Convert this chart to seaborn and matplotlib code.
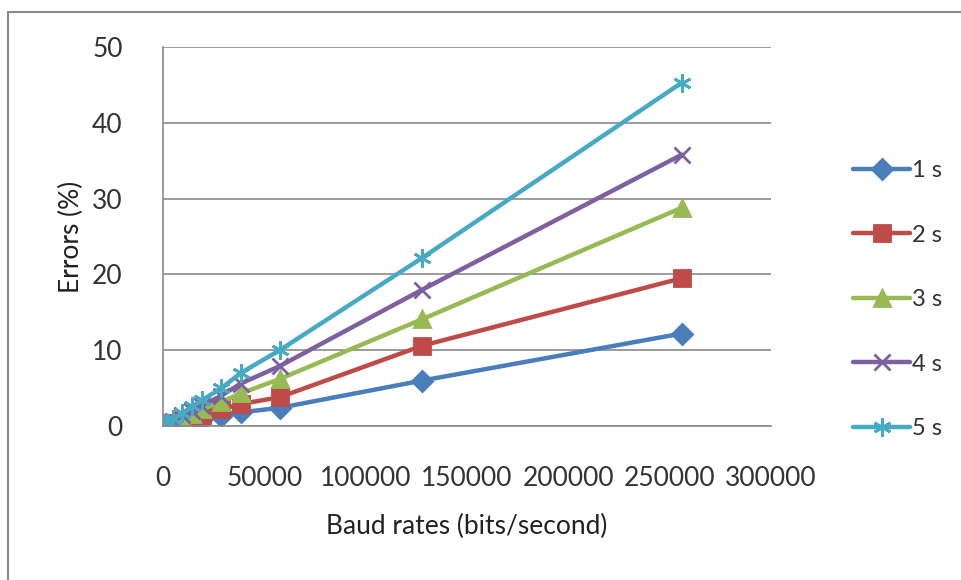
import numpy as np
import pandas as pd
import seaborn as sns
from matplotlib import pyplot as plt
from matplotlib.patches import Rectangle

# baud rates (bits/second)
baud = [1200, 2400, 4800, 9600, 14400, 19200, 28800, 38400, 57600, 128000, 256000]

err_1s = [0.1, 0.1, 0.2, 0.5, 0.7, 0.9, 1.3, 1.8, 2.4, 6.0, 12.2]
err_2s = [0.1, 0.2, 0.4, 0.8, 1.1, 1.5, 2.2, 2.9, 3.8, 10.6, 19.5]
err_3s = [0.1, 0.3, 0.5, 1.1, 1.6, 2.2, 3.2, 4.3, 6.2, 14.1, 28.8]
err_4s = [0.2, 0.3, 0.7, 1.4, 2.0, 2.7, 4.0, 5.6, 7.9, 18.0, 35.8]
err_5s = [0.2, 0.4, 0.9, 1.7, 2.6, 3.4, 5.0, 7.0, 10.0, 22.2, 45.3]

labels = ["1 s", "2 s", "3 s", "4 s", "5 s"]
colors = ["#4A7EBB", "#BE4B48", "#98B954", "#7D60A0", "#46AAC5"]
markers = ["D", "s", "^", "x", (6, 2, 0)]
msizes = [10, 12, 11, 11, 13]

df = pd.DataFrame({"baud": baud, "1 s": err_1s, "2 s": err_2s, "3 s": err_3s,
                   "4 s": err_4s, "5 s": err_5s})
df = df.melt(id_vars="baud", var_name="series", value_name="errors")

sns.set_style("white")
plt.rcParams['font.family'] = ['Lato', 'DejaVu Sans']

fig = plt.figure(figsize=(9.61, 5.80), dpi=100)
ax = fig.add_axes([163/961, 1 - 426/580, 608/961, 379/580])

for lab, c, m, ms in zip(labels, colors, markers, msizes):
    sub = df[df.series == lab]
    sns.lineplot(data=sub, x="baud", y="errors", ax=ax, color=c, marker=m,
                 markersize=ms, markeredgecolor=c, markeredgewidth=2,
                 linewidth=3.2, label=lab, legend=False)

ax.set_xlim(0, 300000)
ax.set_ylim(0, 50)
ax.set_xticks(range(0, 300001, 50000))
ax.set_yticks(range(0, 51, 10))
ax.grid(axis='y', color='#8a8a8a', linewidth=1.2)
ax.set_axisbelow(True)
for s in ['top', 'right']:
    ax.spines[s].set_visible(False)
ax.spines['left'].set_color('#8a8a8a')
ax.spines['bottom'].set_color('#8a8a8a')
ax.spines['left'].set_linewidth(1.2)
ax.spines['bottom'].set_linewidth(1.2)
fs = 19
ax.tick_params(axis='x', length=5, color='#8a8a8a', pad=24, labelsize=fs, labelcolor='#333333')
ax.tick_params(axis='y', length=5, color='#8a8a8a', pad=24, labelsize=fs, labelcolor='#333333')
ax.set_xlabel("Baud rates (bits/second)", fontsize=fs, color='#222222', labelpad=16)
ax.set_ylabel("Errors (%)", fontsize=fs, color='#222222', labelpad=6)

handles, labs = ax.get_legend_handles_labels()
fig.legend(handles, labs, loc='upper left', bbox_to_anchor=(832/961, 1 - 139/580),
           frameon=False, fontsize=17, handlelength=2.4, handletextpad=0.1,
           labelspacing=1.84, labelcolor='#333333')

fig.add_artist(Rectangle((8/961, -0.1), 1.0, 1 - 12/580 + 0.1, transform=fig.transFigure,
                         fill=False, edgecolor='#8a8a8a', linewidth=1.5))

fig.savefig("out.png", dpi=100)
